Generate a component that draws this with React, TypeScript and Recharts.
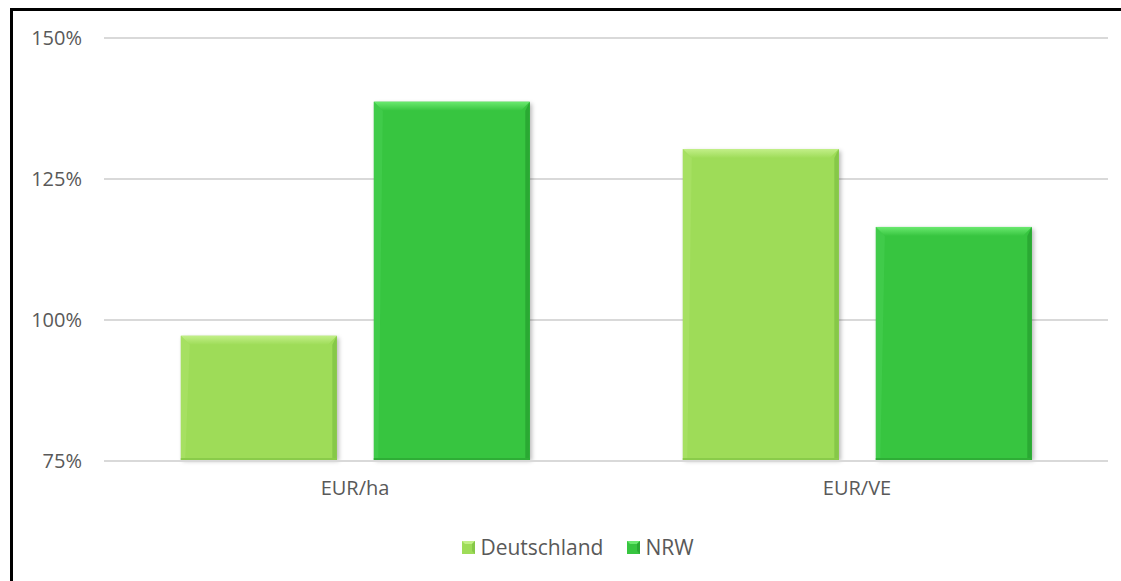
import React from 'react';
import { BarChart, Bar, XAxis, YAxis, CartesianGrid, Legend } from 'recharts';

const categories = ['EUR/ha', 'EUR/VE'];
const deutschland = [97.2, 130.3];
const nrw = [138.7, 116.5];
const yTicks = [75, 100, 125, 150];

const data = categories.map((c, i) => ({ name: c, Deutschland: deutschland[i], NRW: nrw[i] }));

const FONT = '"Open Sans", "Noto Sans", sans-serif';

type Pal = { main: string; top: string; left: string; right: string; bottom: string; id: string };
const palD: Pal = { main: '#9edc58', top: '#c2ef88', left: '#aee46c', right: '#86c848', bottom: '#8acb4a', id: 'd' };
const palN: Pal = { main: '#37c540', top: '#6ae96f', left: '#4ad253', right: '#2aa933', bottom: '#2eae36', id: 'n' };

const makeShape = (p: Pal) => (props: any) => {
  const { x, y, width, height } = props;
  if (!width || !height || height <= 0) return <g />;
  const b = Math.min(9, height / 2, width / 2);
  const fid = `shadow-${p.id}-${Math.round(x)}`;
  const gid = `topgrad-${p.id}-${Math.round(x)}`;
  return (
    <g>
      <defs>
        <filter id={fid} x="-10%" y="-10%" width="130%" height="130%">
          <feGaussianBlur stdDeviation="2" />
        </filter>
        <linearGradient id={gid} x1="0" y1="0" x2="0" y2="1">
          <stop offset="0%" stopColor={p.top} />
          <stop offset="100%" stopColor={p.main} />
        </linearGradient>
      </defs>
      <rect x={x + 2} y={y + 2} width={width} height={height - 2} fill="rgba(0,0,0,0.28)" filter={`url(#${fid})`} />
      <rect x={x} y={y} width={width} height={height} fill={p.main} />
      <polygon points={`${x},${y} ${x + width},${y} ${x + width - b},${y + b} ${x + b},${y + b}`} fill={`url(#${gid})`} />
      <polygon points={`${x},${y} ${x + b},${y + b} ${x + b / 2},${y + height - 3} ${x},${y + height}`} fill={p.left} opacity={0.5} />
      <polygon points={`${x + width},${y} ${x + width - b / 2},${y + b} ${x + width - b / 2},${y + height - 2} ${x + width},${y + height}`} fill={p.right} />
      <rect x={x} y={y + height - 3} width={width} height={3} fill={p.bottom} />
    </g>
  );
};

const LegendContent = () => {
  const items = [
    { label: 'Deutschland', pal: palD },
    { label: 'NRW', pal: palN },
  ];
  return (
    <div style={{ display: 'flex', justifyContent: 'center', alignItems: 'center', height: 30, paddingLeft: 24, fontFamily: FONT, fontSize: 21, color: '#595959' }}>
      {items.map((it, i) => (
        <div key={it.label} style={{ display: 'flex', alignItems: 'center', marginLeft: i === 0 ? 0 : 24 }}>
          <svg width={13} height={13} style={{ marginRight: 5 }}>
            <rect x={0} y={0} width={13} height={13} fill={it.pal.main} />
            <polygon points="0,0 13,0 10,3 3,3" fill={it.pal.top} />
            <polygon points="13,0 13,13 10,10 10,3" fill={it.pal.right} />
          </svg>
          <span>{it.label}</span>
        </div>
      ))}
    </div>
  );
};

export default function App() {
  return (
    <div style={{ position: 'absolute', left: 0, top: 0, width: 1121, height: 581, overflow: 'hidden', background: '#fff' }}>
      <div style={{ position: 'absolute', left: 10, top: 8, width: 1200, height: 700, border: '3px solid #000', boxSizing: 'border-box' }} />
      <div style={{ position: 'absolute', left: 0, top: 0 }}>
        <BarChart
          width={1121}
          height={581}
          data={data}
          margin={{ top: 38, right: 13, left: 24, bottom: 19 }}
          barCategoryGap="15.3%"
          barGap={37}
        >
          <CartesianGrid vertical={false} stroke="#d9d9d9" strokeWidth={2} />
          <XAxis
            dataKey="name"
            height={71}
            tickLine={false}
            axisLine={{ stroke: '#d9d9d9', strokeWidth: 2 }}
            tickMargin={14}
            tick={{ fill: '#595959', fontSize: 20, fontFamily: FONT }}
          />
          <YAxis
            width={80}
            domain={[75, 150]}
            ticks={yTicks}
            tickFormatter={(v: number) => `${v}%`}
            tickLine={false}
            axisLine={false}
            tickMargin={16}
            tick={{ fill: '#595959', fontSize: 20, fontFamily: FONT }}
          />
          <Legend verticalAlign="bottom" content={<LegendContent />} />
          <Bar dataKey="Deutschland" fill={palD.main} shape={makeShape(palD)} isAnimationActive={false} />
          <Bar dataKey="NRW" fill={palN.main} shape={makeShape(palN)} isAnimationActive={false} />
        </BarChart>
      </div>
    </div>
  );
}
